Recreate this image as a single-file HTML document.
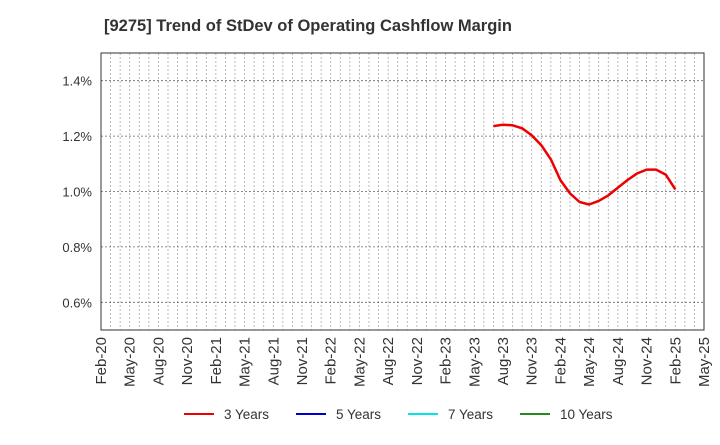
<!DOCTYPE html>
<html><head><meta charset="utf-8"><style>
body{margin:0;background:#fff;font-family:"Liberation Sans",sans-serif;}
</style></head><body>
<svg width="720" height="440" xmlns="http://www.w3.org/2000/svg" font-family="Liberation Sans, sans-serif">
<rect width="720" height="440" fill="#fff"/>
<text x="104" y="31" font-size="16.5" font-weight="bold" fill="#333">[9275]  Trend of StDev of Operating Cashflow Margin</text>
<g id="grid"></g>
<rect x="101" y="53" width="603" height="277" fill="none" stroke="#333" stroke-width="1"/>
<g id="yaxis"></g><g id="xaxis"></g>
<path id="line3" fill="none" stroke="#e00" stroke-width="2.5" stroke-linejoin="round"/>
<g id="legend"></g>
</svg>
<script>
const yTicks=[0.6,0.8,1.0,1.2,1.4];
const xLabels=["Feb-20","May-20","Aug-20","Nov-20","Feb-21","May-21","Aug-21","Nov-21","Feb-22","May-22","Aug-22","Nov-22","Feb-23","May-23","Aug-23","Nov-23","Feb-24","May-24","Aug-24","Nov-24","Feb-25","May-25"];
const startMonth=41;
const values3=[1.236,1.241,1.239,1.228,1.203,1.167,1.116,1.041,0.993,0.962,0.953,0.966,0.986,1.014,1.041,1.065,1.079,1.079,1.061,1.008];
const legendNames=["3 Years","5 Years","7 Years","10 Years"];
const legendColors=["#e00","#0000cc","#00e5ee","#228b22"];
const L=101,R=704,T=53,B=330,NM=63;
const X=m=>L+m*(R-L)/NM, Y=v=>B-(v-0.5)/1.0*(B-T);
const ns="http://www.w3.org/2000/svg";
function mk(t,a,p){const e=document.createElementNS(ns,t);for(const k in a)e.setAttribute(k,a[k]);p.appendChild(e);return e;}
const g=document.getElementById('grid');
for(let m=1;m<NM;m++){const l=mk('line',{x1:X(m),x2:X(m),y1:T,y2:B,stroke:'#aaa','stroke-dasharray':'2,2','stroke-width':0.8},g);

}
const ya=document.getElementById('yaxis');
yTicks.forEach(v=>{const l=mk('line',{x1:L,x2:R,y1:Y(v),y2:Y(v),stroke:'#666','stroke-dasharray':'2,2','stroke-width':0.8},g);


const t=mk('text',{x:92,y:Y(v)+5,'text-anchor':'end','font-size':13,fill:'#333'},ya);t.textContent=v.toFixed(1)+'%';

});
const xa=document.getElementById('xaxis');
xLabels.forEach((s,i)=>{const x=X(i*3)+5;const t=mk('text',{x:x,y:337,'text-anchor':'end','font-size':15,fill:'#333',transform:`rotate(-90 ${x} 337)`},xa);t.textContent=s;

});
document.getElementById('line3').setAttribute('d',values3.map((v,i)=>(i?'L':'M')+X(startMonth+i).toFixed(1)+','+Y(v).toFixed(1)).join(''));
const lg=document.getElementById('legend');const lx=[184,296,408,520];
legendNames.forEach((n,i)=>{const gg=mk('g',{},lg);


mk('line',{x1:lx[i],x2:lx[i]+30,y1:414,y2:414,stroke:legendColors[i],'stroke-width':2},gg);
const t=mk('text',{x:lx[i]+40,y:419,'font-size':13.5,fill:'#333'},gg);t.textContent=n;});
</script>
</body></html>
